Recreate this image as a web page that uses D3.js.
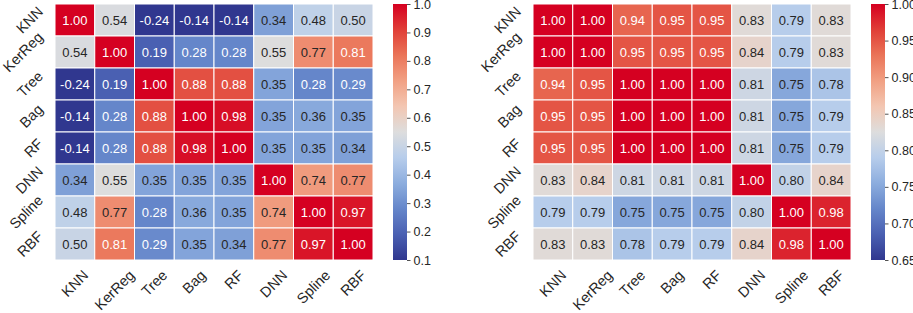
<!DOCTYPE html>
<html>
<head>
<meta charset="utf-8">
<script src="https://cdn.jsdelivr.net/npm/d3@7"></script>
<style>
  body { margin: 0; background: #fff; }
  svg text { font-family: "Liberation Sans", Arial, sans-serif; }
</style>
</head>
<body>
<svg id="chart" width="913" height="313"></svg>
<script>
const models = ["KNN", "KerReg", "Tree", "Bag", "RF", "DNN", "Spline", "RBF"];

const leftValues = [
  [1.00, 0.54, -0.24, -0.14, -0.14, 0.34, 0.48, 0.50],
  [0.54, 1.00, 0.19, 0.28, 0.28, 0.55, 0.77, 0.81],
  [-0.24, 0.19, 1.00, 0.88, 0.88, 0.35, 0.28, 0.29],
  [-0.14, 0.28, 0.88, 1.00, 0.98, 0.35, 0.36, 0.35],
  [-0.14, 0.28, 0.88, 0.98, 1.00, 0.35, 0.35, 0.34],
  [0.34, 0.55, 0.35, 0.35, 0.35, 1.00, 0.74, 0.77],
  [0.48, 0.77, 0.28, 0.36, 0.35, 0.74, 1.00, 0.97],
  [0.50, 0.81, 0.29, 0.35, 0.34, 0.77, 0.97, 1.00]
];
const leftRange = [0.1, 1.0];
const leftTicks = [0.1, 0.2, 0.3, 0.4, 0.5, 0.6, 0.7, 0.8, 0.9, 1.0];

const rightValues = [
  [1.00, 1.00, 0.94, 0.95, 0.95, 0.83, 0.79, 0.83],
  [1.00, 1.00, 0.95, 0.95, 0.95, 0.84, 0.79, 0.83],
  [0.94, 0.95, 1.00, 1.00, 1.00, 0.81, 0.75, 0.78],
  [0.95, 0.95, 1.00, 1.00, 1.00, 0.81, 0.75, 0.79],
  [0.95, 0.95, 1.00, 1.00, 1.00, 0.81, 0.75, 0.79],
  [0.83, 0.84, 0.81, 0.81, 0.81, 1.00, 0.80, 0.84],
  [0.79, 0.79, 0.75, 0.75, 0.75, 0.80, 1.00, 0.98],
  [0.83, 0.83, 0.78, 0.79, 0.79, 0.84, 0.98, 1.00]
];
const rightRange = [0.65, 1.0];
const rightTicks = [0.65, 0.70, 0.75, 0.80, 0.85, 0.90, 0.95, 1.00];

// diverging map, blue -> grey -> red
const cmap = d3.scaleLinear()
  .domain([0, 0.1, 0.2, 0.3, 0.4, 0.5, 0.6, 0.7, 0.8, 0.9, 1])
  .range(["#30378f", "#4a60b2", "#6586ca", "#8cadde", "#b7cdeb", "#dddddd",
          "#f3c6b2", "#f1a083", "#ea7458", "#e03e37", "#d50021"])
  .interpolate(d3.interpolateRgb)
  .clamp(true);

const svg = d3.select("#chart");

function drawPanel(left, values, range, ticks, fmt) {
  const top = 4, height = 256, width = 318;
  const g = svg.append("g").attr("transform", `translate(${left},${top})`);
  const x = d3.scaleBand().domain(models).range([0, width]);
  const y = d3.scaleBand().domain(models).range([0, height]);
  const norm = d3.scaleLinear().domain(range).range([0, 1]).clamp(true);

  const cells = [];
  values.forEach((row, i) => row.forEach((v, j) => cells.push({ r: models[i], c: models[j], v })));

  g.selectAll("rect.cell")
    .data(cells)
    .join("rect")
    .attr("class", "cell")
    .attr("x", d => x(d.c))
    .attr("y", d => y(d.r))
    .attr("width", x.bandwidth())
    .attr("height", y.bandwidth())
    .attr("fill", d => cmap(norm(d.v)))
    .attr("stroke", "#fff")
    .attr("stroke-width", 1);

  g.selectAll("text.annot")
    .data(cells)
    .join("text")
    .attr("class", "annot")
    .attr("x", d => x(d.c) + x.bandwidth() / 2)
    .attr("y", d => y(d.r) + y.bandwidth() / 2)
    .attr("text-anchor", "middle")
    .attr("dominant-baseline", "central")
    .style("font-size", "13px")
    .attr("fill", d => {
      const t = norm(d.v);
      return (t < 0.24 || t > 0.765) ? "#ffffff" : "#262626";
    })
    .text(d => d.v.toFixed(2));

  // rotated tick labels, bbox placed like matplotlib
  const yl = g.selectAll("text.ylab")
    .data(models)
    .join("text")
    .attr("class", "ylab")
    .attr("text-anchor", "middle")
    .attr("dominant-baseline", "central")
    .style("font-size", "14.5px")
    .attr("fill", "#262626")
    .text(d => d);
  yl.each(function (d) {
    const b = this.getBBox();
    const s = (b.width + b.height) / Math.SQRT2;
    const cx = -9 - s / 2, cy = y(d) + y.bandwidth() / 2;
    d3.select(this).attr("x", cx).attr("y", cy)
      .attr("transform", `rotate(-45,${cx},${cy})`);
  });

  const xl = g.selectAll("text.xlab")
    .data(models)
    .join("text")
    .attr("class", "xlab")
    .attr("text-anchor", "middle")
    .attr("dominant-baseline", "central")
    .style("font-size", "14.5px")
    .attr("fill", "#262626")
    .text(d => d);
  xl.each(function (d) {
    const b = this.getBBox();
    const s = (b.width + b.height) / Math.SQRT2;
    const cx = x(d) + x.bandwidth() / 2, cy = height + 7 + s / 2;
    d3.select(this).attr("x", cx).attr("y", cy)
      .attr("transform", `rotate(-45,${cx},${cy})`);
  });

  // colorbar
  const cbX = width + 20, cbW = 14;
  const gradId = "grad" + left;
  const grad = svg.append("defs").append("linearGradient")
    .attr("id", gradId)
    .attr("x1", 0).attr("y1", 1).attr("x2", 0).attr("y2", 0);
  d3.range(0, 1.0001, 0.05).forEach(t => {
    grad.append("stop").attr("offset", t).attr("stop-color", cmap(t));
  });
  g.append("rect")
    .attr("x", cbX).attr("y", 0)
    .attr("width", cbW).attr("height", height)
    .attr("fill", `url(#${gradId})`);

  const cbScale = d3.scaleLinear().domain(range).range([height, 0]);
  const cbAxis = g.append("g")
    .attr("transform", `translate(${cbX + cbW},0)`)
    .call(d3.axisRight(cbScale).tickValues(ticks).tickFormat(d3.format(fmt)).tickSize(3.5).tickPadding(3));
  cbAxis.select(".domain").remove();
  cbAxis.selectAll(".tick line").attr("stroke", "#262626").attr("stroke-width", 0.8);
  cbAxis.selectAll(".tick text")
    .attr("fill", "#262626")
    .style("font-size", "12.5px")
    .style("font-family", "'Liberation Sans', Arial, sans-serif");
}

drawPanel(55, leftValues, leftRange, leftTicks, ".1f");
drawPanel(533, rightValues, rightRange, rightTicks, ".2f");
</script>
</body>
</html>
